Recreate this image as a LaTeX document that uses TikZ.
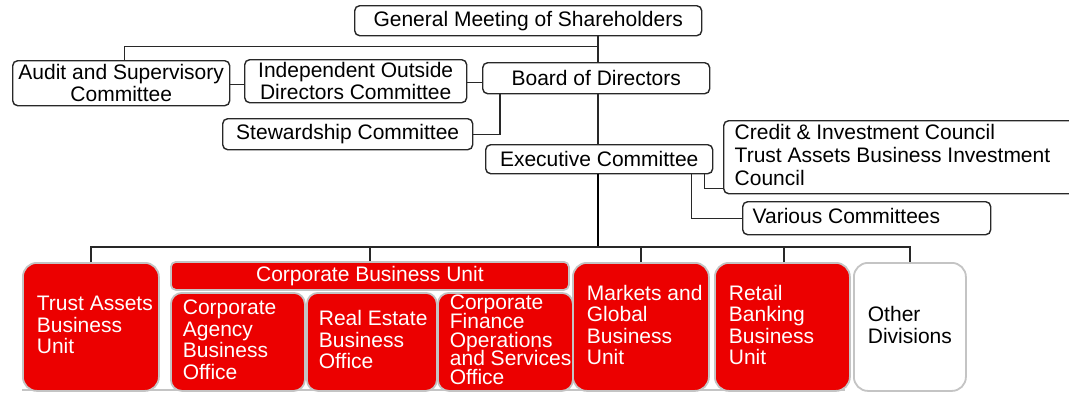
\documentclass[tikz,border=0pt]{standalone}
\usepackage{fontspec}
\setmainfont{Liberation Sans}
\definecolor{unitred}{RGB}{236,0,0}
\definecolor{unitedge}{RGB}{196,196,196}
\definecolor{wire}{RGB}{40,40,40}
% left-aligned block of unbreakable lines set in a fixed-width slot, lifted slightly
\newcommand{\leftlines}[2]{\makebox[#1][l]{\raisebox{2pt}[\height][\depth]{\parbox{400pt}{\raggedright #2}}}}
% let lines sit closer than their glyphs would normally allow
\newcommand{\tightlines}[1]{\baselineskip=#1\relax\lineskiplimit=-10pt\relax}
\tikzset{
  govbox/.style={draw=wire, line width=1.4pt, fill=white, rounded corners=5pt,
    anchor=north west, inner sep=0pt, font=\fontsize{21}{22.5}\selectfont},
  unitbox/.style={draw=unitedge, line width=1.8pt, fill=unitred, text=white,
    rounded corners=14pt, anchor=north west, inner ysep=0pt, inner xsep=14pt,
    font=\fontsize{21}{21.5}\selectfont},
  officebox/.style={unitbox, rounded corners=11pt, inner xsep=12pt},
  link/.style={draw=wire, line width=1.4pt},
  trunkline/.style={draw=black, line width=2.2pt},
}
\begin{document}
\begin{tikzpicture}[x=1pt,y=-1pt]
\clip (0,0) rectangle (1069,392);
\fill[white] (0,0) rectangle (1069,392);

% governance bodies
\node[govbox, minimum width=347pt, minimum height=30pt] (gm) at (354,5)
  {General Meeting of Shareholders};
\node[govbox, minimum width=217pt, minimum height=45pt, align=center] (audit) at (12,60)
  {Audit and Supervisory\\Committee};
\node[govbox, minimum width=222pt, minimum height=43pt, align=center] (indep) at (244,59)
  {Independent Outside\\Directors Committee};
\node[govbox, minimum width=227pt, minimum height=31pt] (board) at (482,62)
  {Board of Directors};
\node[govbox, minimum width=250pt, minimum height=31pt] (stew) at (222,118)
  {Stewardship Committee};
\node[govbox, minimum width=227pt, minimum height=29pt] (exec) at (485,144)
  {Executive Committee};
\node[govbox, minimum width=370pt, minimum height=73pt, inner xsep=11pt,
      font=\fontsize{21}{23}\selectfont] (credit) at (723,120)
  {\leftlines{348pt}{Credit \& Investment Council\\Trust Assets Business Investment\\Council}};
\node[govbox, minimum width=248pt, minimum height=33pt, inner xsep=10pt] (various) at (742,201)
  {\leftlines{228pt}{Various Committees}};

% business units
\coordinate (trunk) at (598,0);
\coordinate (bus) at (598,247);
\draw[draw=unitedge, line width=2pt] (22,390) -- (845,390);

\node[unitbox, minimum width=136pt, minimum height=128pt] (trust) at (22,262)
  {\leftlines{108pt}{Trust Assets\\Business\\Unit}};
\node[unitbox, rounded corners=5pt, minimum width=398pt, minimum height=28pt] (cbu) at (170,261)
  {Corporate Business Unit};
\node[officebox, minimum width=134pt, minimum height=98pt] (agency) at (170,292)
  {\leftlines{110pt}{Corporate\\Agency\\Business\\Office}};
\node[officebox, minimum width=130pt, minimum height=98pt] (estate) at (306,292)
  {\leftlines{106pt}{Real Estate\\Business\\Office}};
\node[officebox, minimum width=135pt, minimum height=98pt] (finance) at (437,292)
  {\leftlines{111pt}{\tightlines{18.8pt}Corporate\\Finance\\Operations\\and Services\\Office}};
\node[unitbox, minimum width=136pt, minimum height=128pt] (markets) at (572,262)
  {\leftlines{108pt}{Markets and\\Global\\Business\\Unit}};
\node[unitbox, minimum width=135pt, minimum height=128pt] (retail) at (714,262)
  {\leftlines{107pt}{Retail\\Banking\\Business\\Unit}};
\node[unitbox, fill=white, text=black, minimum width=112pt, minimum height=128pt] (other) at (853,262)
  {\leftlines{84pt}{Other\\Divisions}};

% connectors
\draw[link] (gm.south -| trunk) -- (board.north -| trunk);
\path (gm.south -| trunk) ++(0,10) coordinate (gmjoin);
\draw[link] (gmjoin) -| ([xshift=3.5pt]audit.north);
\draw[link] ([yshift=-1pt]audit.east) -- ([yshift=-1pt]audit.east -| indep.west);
\draw[link] ([yshift=-1pt]indep.east) -- ([yshift=-1pt]indep.east -| board.west);
\draw[link] ([xshift=18pt]board.south west) |- (stew.east);
\draw[link] (board.south -| trunk) -- (exec.north -| trunk);
\draw[link] ([xshift=-9pt]exec.south east) |- ([yshift=6pt]credit.south west);
\draw[link] ([xshift=-22pt]exec.south east) |- (various.west);
\draw[trunkline] (exec.south -| trunk) -- (bus);
\draw[link, line width=1.8pt] (trust.north) |- (bus) -| (other.north);
\draw[link] (cbu.north) -- (cbu.north |- bus);
\draw[link] (markets.north) -- (markets.north |- bus);
\draw[link] ([xshift=1.5pt]retail.north) -- ([xshift=1.5pt]retail.north |- bus);
\end{tikzpicture}
\end{document}
